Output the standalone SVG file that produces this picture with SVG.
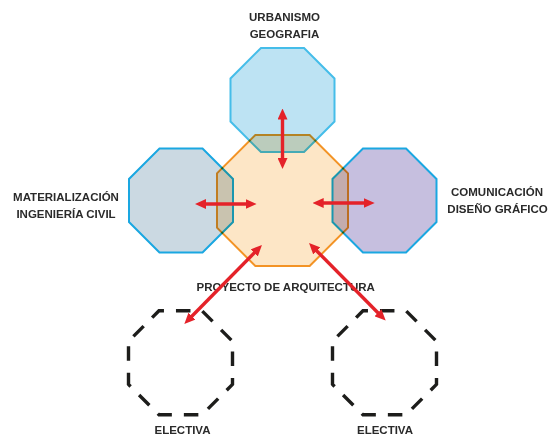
<svg xmlns="http://www.w3.org/2000/svg" width="550" height="439" viewBox="0 0 550 439">
  <style>
    .oct { stroke-width: 2; mix-blend-mode: multiply; stroke-linejoin: miter; }
    .center { fill: #fde6c6; stroke: #f39325; }
    .top { fill: #bde3f3; stroke: #45bde9; }
    .left { fill: #cbd9e2; stroke: #1aa7e1; }
    .right { fill: #c6bfdf; stroke: #1aa7e1; }
    .dash { fill: none; stroke: #1d1d1b; stroke-width: 3.4; stroke-dasharray: 14.5 12; stroke-dashoffset: 9.5; }
    .lbl { font-family: "Liberation Sans", Arial, sans-serif; font-weight: bold; font-size: 11.5px; fill: #2a2a2a; text-anchor: middle; }
    .arr { stroke: #e42229; stroke-width: 3.4; fill: none; marker-start: url(#ah); marker-end: url(#ah); }
  </style>
  <defs>
    <marker id="ah" markerUnits="userSpaceOnUse" markerWidth="11" markerHeight="10" viewBox="0 0 11 10" refX="4.5" refY="5" orient="auto-start-reverse">
      <path d="M0,0 L11,5 L0,10 z" fill="#e42229"/>
    </marker>
  </defs>
  <rect width="550" height="439" fill="#ffffff"/>

  <g id="proyecto">
    <polygon class="oct center" transform="translate(282.5,200.5)" points="-27.13,-65.5 27.13,-65.5 65.5,-27.13 65.5,27.13 27.13,65.5 -27.13,65.5 -65.5,27.13 -65.5,-27.13"/>
    <text class="lbl" x="285.7" y="291">PROYECTO DE ARQUITECTURA</text>
  </g>
  <g id="urbanismo">
    <polygon class="oct top" transform="translate(282.5,100)" points="-21.54,-52 21.54,-52 52,-21.54 52,21.54 21.54,52 -21.54,52 -52,21.54 -52,-21.54"/>
    <text class="lbl" x="284.5" y="21">URBANISMO</text>
    <text class="lbl" x="284.5" y="37.5">GEOGRAFIA</text>
  </g>
  <g id="materializacion">
    <polygon class="oct left" transform="translate(181,200.5)" points="-21.54,-52 21.54,-52 52,-21.54 52,21.54 21.54,52 -21.54,52 -52,21.54 -52,-21.54"/>
    <text class="lbl" x="66" y="201">MATERIALIZACIÓN</text>
    <text class="lbl" x="66" y="218">INGENIERÍA CIVIL</text>
  </g>
  <g id="comunicacion">
    <polygon class="oct right" transform="translate(384.5,200.5)" points="-21.54,-52 21.54,-52 52,-21.54 52,21.54 21.54,52 -21.54,52 -52,21.54 -52,-21.54"/>
    <text class="lbl" x="497" y="196">COMUNICACIÓN</text>
    <text class="lbl" x="497.5" y="212.5">DISEÑO GRÁFICO</text>
  </g>
  <g id="electiva1">
    <polygon class="dash" transform="translate(180.5,362.8)" points="-21.54,-52 21.54,-52 52,-21.54 52,21.54 21.54,52 -21.54,52 -52,21.54 -52,-21.54"/>
    <text class="lbl" x="182.5" y="434">ELECTIVA</text>
  </g>
  <g id="electiva2">
    <polygon class="dash" transform="translate(384.5,362.8)" points="-21.54,-52 21.54,-52 52,-21.54 52,21.54 21.54,52 -21.54,52 -52,21.54 -52,-21.54"/>
    <text class="lbl" x="385" y="434">ELECTIVA</text>
  </g>

  <g id="connectors">
    <path class="arr" d="M282.5,115 L282.5,162.5"/>
    <path class="arr" d="M201.5,204 L250,204"/>
    <path class="arr" d="M319.2,203 L368.2,203"/>
    <path class="arr" d="M257.4,249.7 L188.9,319.3"/>
    <path class="arr" d="M313.6,247.7 L381.1,316"/>
  </g>
</svg>
